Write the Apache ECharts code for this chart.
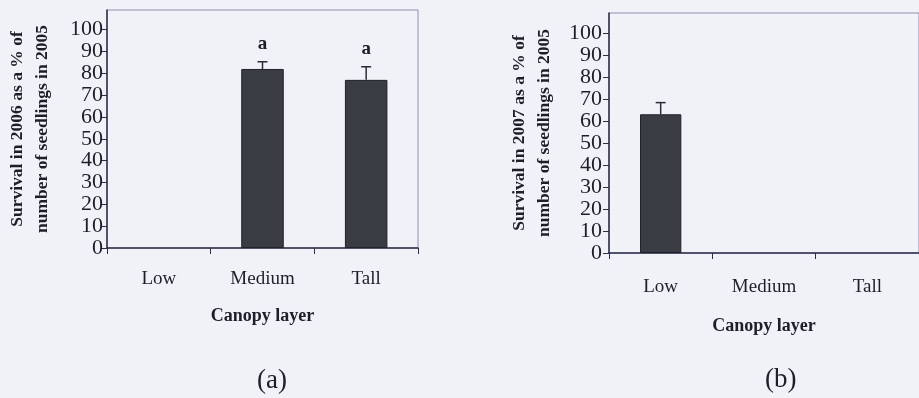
<!DOCTYPE html>
<html>
<head>
<meta charset="utf-8">
<script src="https://cdn.jsdelivr.net/npm/echarts@6/dist/echarts.min.js"></script>
<style>
  html, body { margin: 0; padding: 0; background: #f1f2f8; }
  #main { width: 919px; height: 398px; }
</style>
</head>
<body>
<div id="main"></div>
<script>
var categories = ['Low', 'Medium', 'Tall'];
var yTicks = [0, 10, 20, 30, 40, 50, 60, 70, 80, 90, 100];

// panel (a): survival in 2006
var survival2006 = [null, 82, 77];
var upper2006 = [null, 85.3, 83];
var letters2006 = ['', 'a', 'a'];

// panel (b): survival in 2007
var survival2007 = [63, null, null];
var upper2007 = [68.3, null, null];
var letters2007 = ['', '', ''];

var serif = 'Liberation Serif';
var ink = '#1d1e28';
var barColor = '#3a3c44';
var axisColor = '#2b2e48';

var chartDom = document.getElementById('main');
var myChart = echarts.init(chartDom);
var option;

function errData(means, uppers) {
  var out = [];
  for (var i = 0; i < means.length; i++) {
    if (means[i] != null) out.push([i, means[i], uppers[i]]);
  }
  return out;
}

function makeRender(letters) {
  return function (params, api) {
    var idx = api.value(0);
    var base = api.coord([idx, api.value(1)]);
    var top = api.coord([idx, api.value(2)]);
    var children = [
      { type: 'line', shape: { x1: base[0], y1: base[1], x2: top[0], y2: top[1] },
        style: { stroke: '#2a2c36', lineWidth: 1.5 } },
      { type: 'line', shape: { x1: top[0] - 5, y1: top[1], x2: top[0] + 5, y2: top[1] },
        style: { stroke: '#2a2c36', lineWidth: 1.5 } }
    ];
    var letter = letters[idx];
    if (letter) {
      children.push({ type: 'text', x: top[0], y: top[1] - 18,
        style: { text: letter, font: 'bold 19px "' + serif + '"', fill: ink,
          align: 'center', verticalAlign: 'middle' } });
    }
    return { type: 'group', children: children };
  };
}

function yAxisFor(gridIndex, name, margin) {
  return {
    type: 'value',
    gridIndex: gridIndex,
    min: 0,
    max: 109,
    name: name,
    nameLocation: 'middle',
    nameGap: 52,
    nameTextStyle: { fontFamily: serif, fontWeight: 'bold', fontSize: 17.5, color: ink, lineHeight: 25 },
    axisLine: { show: true, lineStyle: { color: axisColor, width: 1.5 } },
    axisTick: { show: true, length: 6, customValues: yTicks, lineStyle: { color: axisColor } },
    axisLabel: { customValues: yTicks, margin: margin, fontFamily: serif, fontSize: 22, color: ink },
    splitLine: { show: false }
  };
}

function xAxisFor(gridIndex, labelMargin, nameGap) {
  return {
    type: 'category',
    gridIndex: gridIndex,
    data: categories,
    name: 'Canopy layer',
    nameLocation: 'middle',
    nameGap: nameGap,
    nameTextStyle: { fontFamily: serif, fontWeight: 'bold', fontSize: 18, color: ink },
    axisLine: { show: true, lineStyle: { color: axisColor, width: 1.5 } },
    axisTick: { show: true, alignWithLabel: false, length: 6, lineStyle: { color: axisColor } },
    axisLabel: { margin: labelMargin, fontFamily: serif, fontSize: 19, color: ink }
  };
}

option = {
  backgroundColor: '#f1f2f8',
  animation: false,
  title: [
    { text: '(a)', left: 257, top: 367, padding: 0,
      textStyle: { fontFamily: serif, fontWeight: 'normal', fontSize: 27, color: ink } },
    { text: '(b)', left: 765, top: 366, padding: 0,
      textStyle: { fontFamily: serif, fontWeight: 'normal', fontSize: 27, color: ink } }
  ],
  grid: [
    { left: 107, right: 501, top: 10, bottom: 150, show: true,
      borderColor: '#8a8fb3', borderWidth: 1, backgroundColor: 'transparent' },
    { left: 609, right: -10, top: 13, bottom: 145, show: true,
      borderColor: '#8a8fb3', borderWidth: 1, backgroundColor: 'transparent' }
  ],
  xAxis: [xAxisFor(0, 22, 59), xAxisFor(1, 25, 64)],
  yAxis: [
    yAxisFor(0, 'Survival in 2006 as a % of\nnumber of seedlings in 2005', 4),
    yAxisFor(1, 'Survival in 2007 as a % of\nnumber of seedlings in 2005', 7)
  ],
  series: [
    {
      name: 'Survival 2006',
      type: 'bar',
      xAxisIndex: 0,
      yAxisIndex: 0,
      barWidth: '41%',
      itemStyle: { color: barColor, borderColor: '#202228', borderWidth: 1 },
      data: survival2006
    },
    {
      type: 'custom',
      xAxisIndex: 0,
      yAxisIndex: 0,
      renderItem: makeRender(letters2006),
      data: errData(survival2006, upper2006),
      z: 5
    },
    {
      name: 'Survival 2007',
      type: 'bar',
      xAxisIndex: 1,
      yAxisIndex: 1,
      barWidth: '40%',
      itemStyle: { color: barColor, borderColor: '#202228', borderWidth: 1 },
      data: survival2007
    },
    {
      type: 'custom',
      xAxisIndex: 1,
      yAxisIndex: 1,
      renderItem: makeRender(letters2007),
      data: errData(survival2007, upper2007),
      z: 5
    }
  ]
};

myChart.setOption(option);
</script>
</body>
</html>
